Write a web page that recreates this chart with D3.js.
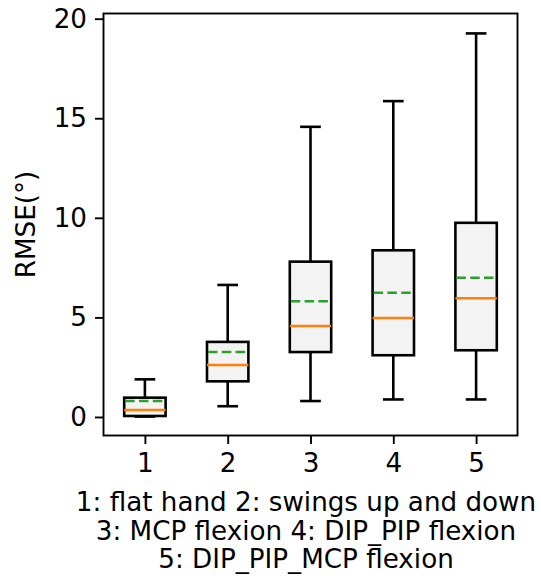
<!DOCTYPE html>
<html>
<head>
<meta charset="utf-8">
<script src="https://cdn.jsdelivr.net/npm/d3@7"></script>
<style>
  html, body { margin: 0; padding: 0; background: #fff; }
  svg { display: block; }
  text { font-family: "DejaVu Sans", sans-serif; fill: #000; }
</style>
</head>
<body>
<svg id="chart" width="541" height="579"></svg>
<script>
// Box-plot summary per gesture (RMSE in degrees)
const categories = [1, 2, 3, 4, 5];
const whiskerLow  = [0.02, 0.54, 0.80, 0.88, 0.88];
const q1          = [0.05, 1.79, 3.26, 3.10, 3.35];
const median      = [0.35, 2.61, 4.57, 4.97, 5.96];
const mean        = [0.80, 3.26, 5.81, 6.24, 6.99];
const q3          = [0.97, 3.77, 7.80, 8.37, 9.75];
const whiskerHigh = [1.89, 6.63, 14.57, 15.86, 19.26];
const yTicks = [0, 5, 10, 15, 20];
const xLabelLines = [
  "1: flat hand 2: swings up and down",
  "3: MCP flexion 4: DIP_PIP flexion",
  "5: DIP_PIP_MCP flexion"
];

const boxes = categories.map((c, i) => ({
  c, lo: whiskerLow[i], q1: q1[i], med: median[i], mean: mean[i], q3: q3[i], hi: whiskerHigh[i]
}));

const svg = d3.select("#chart");
const plotLeft = 103.5, plotRight = 517.5, plotTop = 13.5, plotBottom = 435.5;
const fontSize = 26.2;

const x = d3.scaleLinear().domain([0.5, 5.5]).range([plotLeft, plotRight]);
const y = d3.scaleLinear().domain([-0.93, 20.26]).range([plotBottom, plotTop]);

const boxW = x(0.5) - x(0);
const capW = x(0.25) - x(0);
const lw = 2.6;

const g = svg.append("g");

// whiskers
g.selectAll(".wlow").data(boxes).enter().append("line")
  .attr("x1", d => x(d.c)).attr("x2", d => x(d.c))
  .attr("y1", d => y(d.q1)).attr("y2", d => y(d.lo))
  .attr("stroke", "#000").attr("stroke-width", lw);
g.selectAll(".whigh").data(boxes).enter().append("line")
  .attr("x1", d => x(d.c)).attr("x2", d => x(d.c))
  .attr("y1", d => y(d.q3)).attr("y2", d => y(d.hi))
  .attr("stroke", "#000").attr("stroke-width", lw);
// caps
["lo", "hi"].forEach(k => {
  g.selectAll(".cap-" + k).data(boxes).enter().append("line")
    .attr("x1", d => x(d.c) - capW / 2).attr("x2", d => x(d.c) + capW / 2)
    .attr("y1", d => y(d[k])).attr("y2", d => y(d[k]))
    .attr("stroke", "#000").attr("stroke-width", lw);
});
// boxes
g.selectAll(".box").data(boxes).enter().append("rect")
  .attr("x", d => x(d.c) - boxW / 2)
  .attr("width", boxW)
  .attr("y", d => y(d.q3))
  .attr("height", d => y(d.q1) - y(d.q3))
  .attr("fill", "#f3f3f3").attr("stroke", "#000").attr("stroke-width", lw);
// medians
g.selectAll(".med").data(boxes).enter().append("line")
  .attr("x1", d => x(d.c) - boxW / 2).attr("x2", d => x(d.c) + boxW / 2)
  .attr("y1", d => y(d.med)).attr("y2", d => y(d.med))
  .attr("stroke", "#ff7f0e").attr("stroke-width", lw);
// means
g.selectAll(".mean").data(boxes).enter().append("line")
  .attr("x1", d => x(d.c) - boxW / 2 + 1).attr("x2", d => x(d.c) + boxW / 2 - 1)
  .attr("y1", d => y(d.mean)).attr("y2", d => y(d.mean))
  .attr("stroke", "#2ca02c").attr("stroke-width", 2.4)
  .attr("stroke-dasharray", "9.5,4.3");

// frame
svg.append("rect")
  .attr("x", plotLeft).attr("y", plotTop)
  .attr("width", plotRight - plotLeft).attr("height", plotBottom - plotTop)
  .attr("fill", "none").attr("stroke", "#000").attr("stroke-width", 1.9);

// axes
const yAxis = d3.axisLeft(y).tickValues(yTicks).tickFormat(d3.format("d")).tickSize(8.5).tickPadding(8);
const yg = svg.append("g").attr("transform", `translate(${plotLeft},0)`).call(yAxis);
const xAxis = d3.axisBottom(x).tickValues(categories).tickFormat(d3.format("d")).tickSize(8.5).tickPadding(9);
const xg = svg.append("g").attr("transform", `translate(0,${plotBottom})`).call(xAxis);
[yg, xg].forEach(a => {
  a.select(".domain").remove();
  a.selectAll(".tick line").attr("stroke", "#000").attr("stroke-width", 1.9);
  a.selectAll(".tick text").attr("font-size", fontSize).attr("font-family", "DejaVu Sans").attr("fill", "#000");
});

// y label
svg.append("text")
  .attr("transform", `translate(35,${(plotTop + plotBottom) / 2}) rotate(-90)`)
  .attr("text-anchor", "middle")
  .attr("font-size", fontSize)
  .text("RMSE(°)");

// x label (three lines)
svg.append("text")
  .attr("text-anchor", "middle")
  .attr("font-size", fontSize)
  .selectAll("tspan").data(xLabelLines).enter().append("tspan")
  .attr("x", 306)
  .attr("y", (d, i) => 511 + i * 28.5)
  .text(d => d);
</script>
</body>
</html>
